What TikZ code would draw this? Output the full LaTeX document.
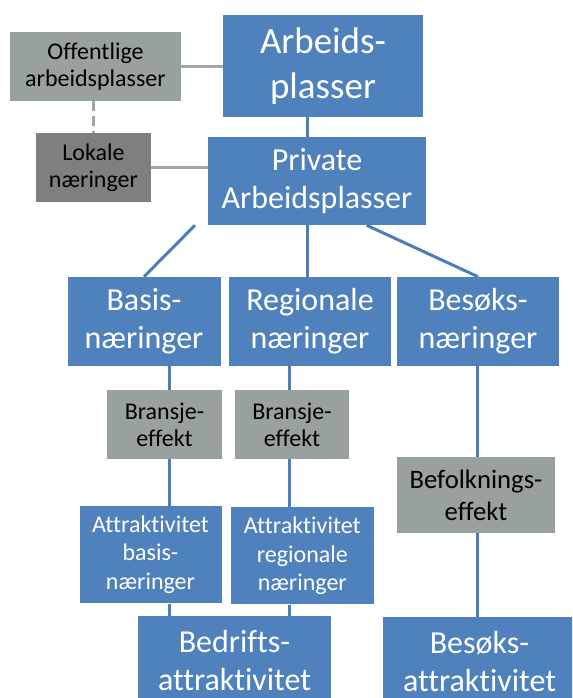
\documentclass[tikz,border=0pt]{standalone}
\usepackage{fontspec}
\setmainfont[Ligatures=NoCommon]{Carlito}
\usepackage{tikz}

\definecolor{boxblue}{HTML}{4F81BD}
\definecolor{linkblue}{HTML}{4A7EBB}
\definecolor{boxgray}{HTML}{99A19D}
\definecolor{localgray}{HTML}{7F7F7F}
\definecolor{linkgray}{HTML}{A5A5A5}

\begin{document}
\begin{tikzpicture}[
  x=0.75pt, y=-0.75pt,
  box/.style={rectangle, inner sep=0pt, align=center, fill=boxblue, text=white},
  effbox/.style={rectangle, inner sep=0pt, align=center, fill=boxgray, text=black},
  link/.style={draw=linkblue, line width=2.25pt},
  graylink/.style={draw=linkgray, line width=2.25pt},
  bigtxt/.style={font=\fontsize{27.75}{33.75}\selectfont},
  midtxt/.style={font=\fontsize{24}{28.5}\selectfont},
  smalltxt/.style={font=\fontsize{18}{20.5}\selectfont},
  attrtxt/.style={font=\fontsize{18}{21.4}\selectfont}
]
  \useasboundingbox (0,0) rectangle (572,698);
  \clip (0,0) rectangle (572,698);

  % top part
  \node[box, bigtxt, minimum width=150pt, minimum height=76.5pt] (arb) at (323,66) {Arbeids-\\plasser};
  \node[effbox, smalltxt, minimum width=128.25pt, minimum height=51.75pt] (off) at (95.5,66.5) {Offentlige\\arbeidsplasser};
  \node[effbox, fill=localgray, smalltxt, minimum width=86.25pt, minimum height=51.75pt] (lok) at (93.5,167.5) {Lokale\\næringer};
  \node[box, midtxt, minimum width=163.5pt, minimum height=66pt] (priv) at (317,181) {Private\\Arbeidsplasser};

  % the three kinds of business
  \node[box, midtxt, minimum width=114.75pt, minimum height=66.75pt] (basis) at (144,321.5) {Basis-\\næringer};
  \node[box, midtxt, minimum width=121.5pt, minimum height=66.75pt] (reg) at (310,321.5) {Regionale\\næringer};
  \node[box, midtxt, minimum width=121.5pt, minimum height=66.75pt] (besok) at (478,321.5) {Besøks-\\næringer};

  % effects
  \node[effbox, smalltxt, minimum width=86.25pt, minimum height=51.75pt] (bransA) at (164.5,424.5) {Bransje-\\effekt};
  \node[effbox, smalltxt, minimum width=86pt, minimum height=51.75pt] (bransB) at (292,424.5) {Bransje-\\effekt};
  \node[effbox, font=\fontsize{20}{24}\selectfont, minimum width=118pt, minimum height=56.5pt] (befolk) at (476,495) {Befolknings-\\effekt};

  % attractiveness
  \node[box, attrtxt, minimum width=106.5pt, minimum height=73pt] (attrA) at (150.5,554.7) {Attraktivitet\\basis-\\næringer};
  \node[box, attrtxt, minimum width=107pt, minimum height=73pt] (attrB) at (302.3,555.8) {Attraktivitet\\regionale\\næringer};
  \node[box, midtxt, minimum width=144.75pt, minimum height=66.75pt] (bedrift) at (234.5,660.5) {Bedrifts-\\attraktivitet};
  \node[box, midtxt, minimum width=144.75pt, minimum height=66.75pt] (besattr) at (479.5,661.5) {Besøks-\\attraktivitet};

  % columns for the connectors
  \coordinate (colA) at (169,0);
  \coordinate (colB) at (289.5,0);
  \coordinate (colC) at (477.5,0);
  \coordinate (colP) at (307,0);
  \coordinate (privL) at (195,0);
  \coordinate (privR) at (366.7,0);

  \draw[graylink] (off.east) -- (off.east -| arb.west);
  \draw[graylink, dash pattern=on 7.5pt off 3.75pt] (off.south -| lok.north) -- (lok.north);
  \draw[graylink] (lok.east) -- (lok.east -| priv.west);

  \draw[link] (arb.south -| colP) -- (priv.north -| colP);
  \draw[link] (priv.south -| privL) -- (basis.north);
  \draw[link] (priv.south -| colP) -- (reg.north -| colP);
  \draw[link] (priv.south -| privR) -- (besok.north);

  \draw[link] (basis.south -| colA) -- (bransA.north -| colA);
  \draw[link] (bransA.south -| colA) -- (attrA.north -| colA);
  \draw[link] (attrA.south -| colA) -- (bedrift.north -| colA);
  \draw[link] (reg.south -| colB) -- (bransB.north -| colB);
  \draw[link] (bransB.south -| colB) -- (attrB.north -| colB);
  \draw[link] (attrB.south -| colB) -- (bedrift.north -| colB);
  \draw[link] (besok.south -| colC) -- (befolk.north -| colC);
  \draw[link] (befolk.south -| colC) -- (besattr.north -| colC);
\end{tikzpicture}
\end{document}
